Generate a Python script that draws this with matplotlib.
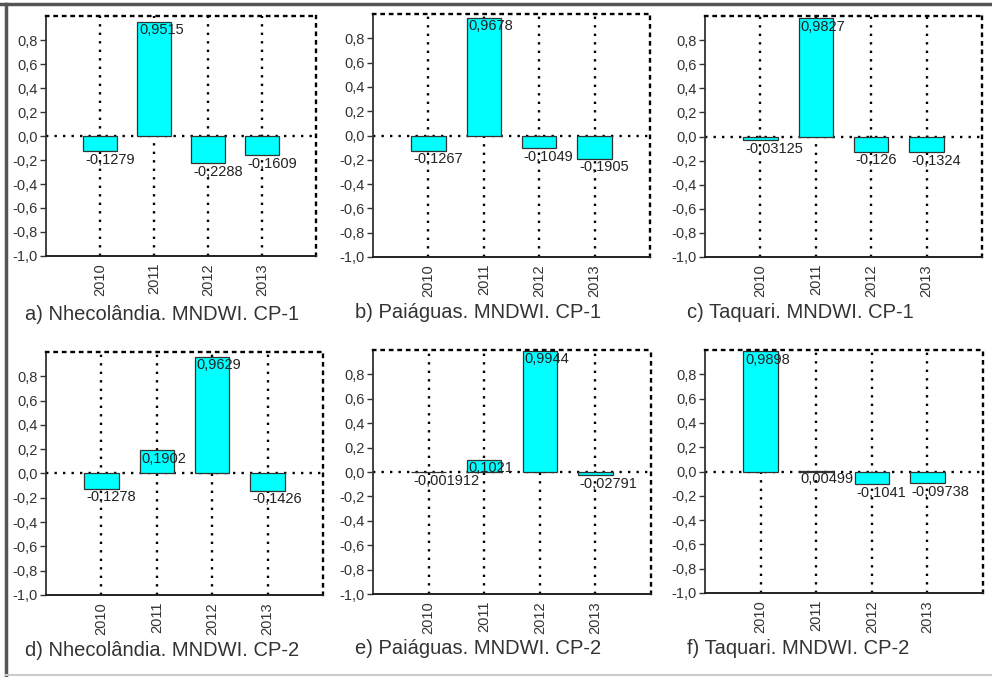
import matplotlib
matplotlib.use("Agg")
import matplotlib.pyplot as plt
from matplotlib.lines import Line2D

plt.rcParams['font.family'] = ['Liberation Sans', 'DejaVu Sans']

years = ["2010", "2011", "2012", "2013"]
titles = [
    "a) Nhecolândia. MNDWI. CP-1",
    "b) Paiáguas. MNDWI. CP-1",
    "c) Taquari. MNDWI. CP-1",
    "d) Nhecolândia. MNDWI. CP-2",
    "e) Paiáguas. MNDWI. CP-2",
    "f) Taquari. MNDWI. CP-2",
]
nhecolandia_cp1 = [-0.1279, 0.9515, -0.2288, -0.1609]
paiaguas_cp1 = [-0.1267, 0.9678, -0.1049, -0.1905]
taquari_cp1 = [-0.03125, 0.9827, -0.126, -0.1324]
nhecolandia_cp2 = [-0.1278, 0.1902, 0.9629, -0.1426]
paiaguas_cp2 = [-0.001912, 0.1021, 0.9944, -0.02791]
taquari_cp2 = [0.9898, 0.00499, -0.1041, -0.09738]
series = [nhecolandia_cp1, paiaguas_cp1, taquari_cp1,
          nhecolandia_cp2, paiaguas_cp2, taquari_cp2]
yticks = [-1.0, -0.8, -0.6, -0.4, -0.2, 0.0, 0.2, 0.4, 0.6, 0.8]

W, H = 992, 677
fig = plt.figure(figsize=(W / 100, H / 100), dpi=100)

# axes boxes in pixels: left, top, right, bottom
boxes = [
    (46, 16, 316, 256),
    (373, 14, 650, 257),
    (705, 16, 982, 257),
    (46, 352, 323, 595),
    (373, 350, 651, 594),
    (705, 350, 983, 593),
]
title_pos = [(25, 314), (355, 312), (687, 312), (25, 651), (355, 649), (687, 649)]

dot = (0, (1, 2.6))
bw = 0.62
txt = '#333333'

for k, (vals, box, title, tp) in enumerate(zip(series, boxes, titles, title_pos)):
    l, t, r, b = box
    ax = fig.add_axes([l / W, 1 - b / H, (r - l) / W, (b - t) / H])
    x = list(range(len(years)))
    ax.set_xlim(-1, 4)
    ax.set_ylim(-1, 1)
    for xi in x:
        ax.axvline(xi, color='black', linestyle=dot, lw=1.7, zorder=1)
    ax.axhline(0, color='black', linestyle=dot, lw=1.7, zorder=1)
    ax.bar(x, vals, width=bw, color='#00FFFF', edgecolor='#333333', lw=0.9, zorder=2)
    for xi, v in zip(x, vals):
        s = f"{v:g}".replace('.', ',')
        ax.text(xi - bw / 2 + 0.03, v - 0.012, s, ha='left', va='top',
                fontsize=10.5, color='#222222', zorder=3)
    ax.set_yticks(yticks)
    ax.set_yticklabels([f"{v:.1f}".replace('.', ',') for v in yticks])
    ax.set_xticks(x)
    ax.set_xticklabels(years, rotation=90)
    ax.tick_params(axis='y', direction='out', length=4, width=1, labelsize=10.5,
                   colors=txt, pad=2)
    ax.tick_params(axis='x', length=0, labelsize=10.5, colors=txt, pad=5)
    ax.spines['left'].set_color('#333333')
    ax.spines['left'].set_linewidth(1.3)
    ax.spines['bottom'].set_color('#222222')
    ax.spines['bottom'].set_linewidth(1.4)
    for sp in ('top', 'right'):
        ax.spines[sp].set_linestyle(dot)
        ax.spines[sp].set_linewidth(1.7)
        ax.spines[sp].set_color('black')
    ax.patch.set_alpha(0)
    fig.text(tp[0] / W, 1 - tp[1] / H, title, ha='left', va='center',
             fontsize=14.5, color=txt)

# page frame: dark top and left lines, light bottom line
fig.add_artist(Line2D([0, 1], [1 - 4 / H, 1 - 4 / H], transform=fig.transFigure,
                      color='#555555', lw=2.5))
fig.add_artist(Line2D([6 / W, 6 / W], [1 - 4 / H, 1 - 675 / H], transform=fig.transFigure,
                      color='#555555', lw=2.5))
fig.add_artist(Line2D([6 / W, 1], [1 - 675 / H, 1 - 675 / H], transform=fig.transFigure,
                      color='#cccccc', lw=1.5))

fig.savefig("out.png", dpi=100)
